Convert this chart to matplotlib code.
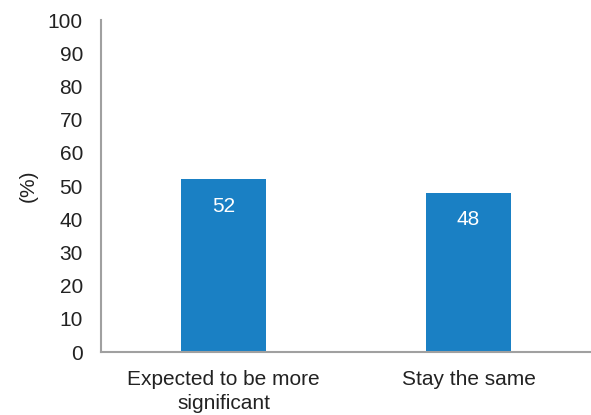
import matplotlib.pyplot as plt

plt.rcParams['font.family'] = ['Liberation Sans', 'DejaVu Sans']

categories = ['Expected to be more\nsignificant', 'Stay the same']
values = [52, 48]
yticks = list(range(0, 101, 10))

fig = plt.figure(figsize=(5.91, 4.15), dpi=100)
ax = fig.add_axes([101 / 591, 63 / 415, 490 / 591, 332 / 415])

x = range(len(categories))
bars = ax.bar(x, values, width=0.343, color='#1a80c4')

for b, v in zip(bars, values):
    ax.annotate(str(v), (b.get_x() + b.get_width() / 2, v),
                xytext=(0, -27), textcoords='offset pixels',
                ha='center', va='center', color='white', fontsize=15)

ax.set_xlim(-0.5, 1.5)
ax.set_ylim(0, 100)
ax.set_yticks(yticks)
ax.set_xticks(list(x))
ax.set_xticklabels(categories, fontsize=15, color='#222222', linespacing=1.3)
ax.tick_params(axis='y', length=0, pad=13, labelsize=15, labelcolor='#222222')
ax.tick_params(axis='x', length=0, pad=13)
ax.set_ylabel('(%)', fontsize=15, color='#222222', labelpad=7)

for s in ['top', 'right']:
    ax.spines[s].set_visible(False)
for s in ['left', 'bottom']:
    ax.spines[s].set_color('#a0a0a0')
    ax.spines[s].set_linewidth(1.5)

fig.savefig('out.png', dpi=100)
